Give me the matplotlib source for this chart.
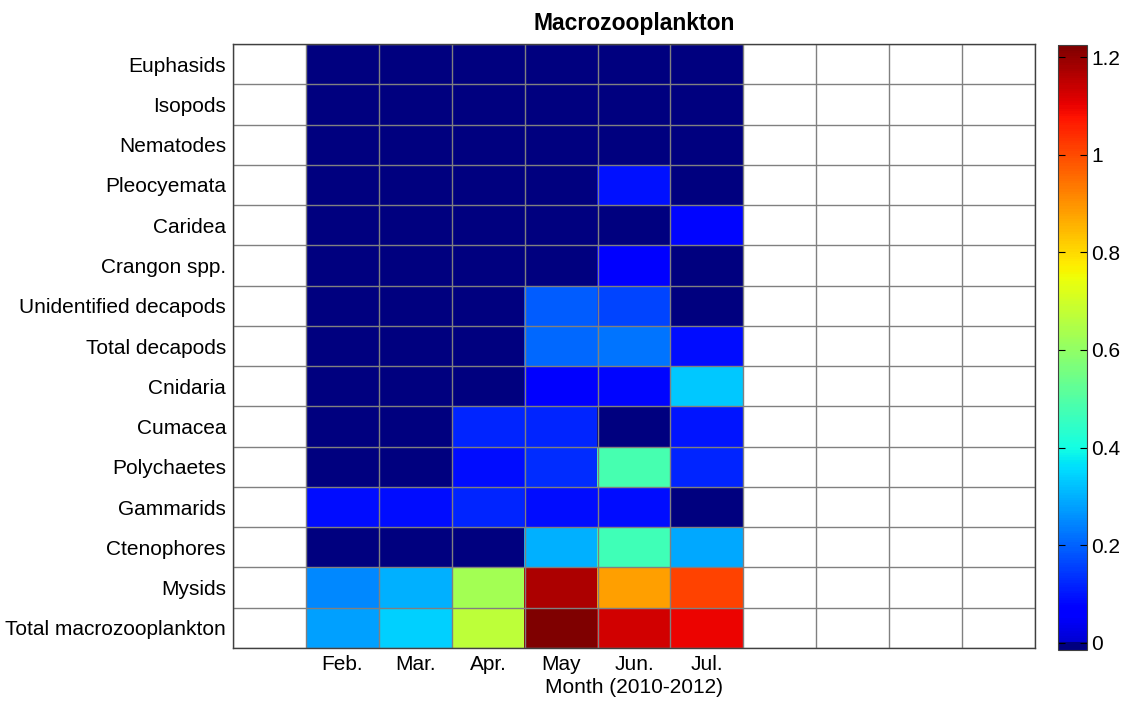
import numpy as np
import matplotlib
matplotlib.use("Agg")
import matplotlib.pyplot as plt
from matplotlib.colors import ListedColormap, Normalize

plt.rcParams['font.family'] = ['Liberation Sans', 'DejaVu Sans']

taxa = ["Euphasids", "Isopods", "Nematodes", "Pleocyemata", "Caridea",
        "Crangon spp.", "Unidentified decapods", "Total decapods", "Cnidaria",
        "Cumacea", "Polychaetes", "Gammarids", "Ctenophores", "Mysids",
        "Total macrozooplankton"]
months = ["", "Feb.", "Mar.", "Apr.", "May", "Jun.", "Jul.", "", "", "", ""]

# values per taxon, Feb..Jul
feb = [0, 0, 0, 0, 0, 0, 0, 0, 0, 0, 0, 0.09, 0, 0.25, 0.28]
mar = [0, 0, 0, 0, 0, 0, 0, 0, 0, 0, 0, 0.09, 0, 0.30, 0.34]
apr = [0, 0, 0, 0, 0, 0, 0, 0, 0, 0.12, 0.09, 0.12, 0, 0.63, 0.67]
may = [0, 0, 0, 0, 0, 0, 0.19, 0.21, 0.07, 0.12, 0.13, 0.09, 0.30, 1.17, 1.225]
jun = [0, 0, 0, 0.095, 0, 0.07, 0.16, 0.22, 0.08, 0, 0.48, 0.09, 0.47, 0.88, 1.13]
jul = [0, 0, 0, 0, 0.08, 0, 0, 0.09, 0.33, 0.10, 0.12, 0, 0.29, 1.01, 1.10]

vmax = 1.225
vmin = -0.015
data = np.full((len(taxa), len(months)), np.nan)
for j, col in enumerate([feb, mar, apr, may, jun, jul], start=1):
    data[:, j] = col
shown = np.where(data <= 0, vmin, data)

# jet-like map: navy for empty cells, then jet starting near blue
jet = plt.get_cmap('jet')
vals = np.linspace(vmin, vmax, 512)
cols = [jet(0.0) if v < 0 else jet(0.072 + v / vmax * 0.928) for v in vals]
cmap = ListedColormap(cols)
cmap.set_bad('white')
norm = Normalize(vmin=vmin, vmax=vmax)

fig = plt.figure(figsize=(11.28, 7.02), dpi=100)
ax = fig.add_axes([233 / 1128, 1 - 648 / 702, 802 / 1128, 604 / 702])
cax = fig.add_axes([1058 / 1128, 1 - 650 / 702, 29 / 1128, 605 / 702])

im = ax.imshow(np.ma.masked_invalid(shown), cmap=cmap, norm=norm,
               aspect='auto', interpolation='nearest')

nr, nc = data.shape
ax.set_xticks(np.arange(nc))
ax.set_xticklabels(months, fontsize=15)
ax.set_yticks(np.arange(nr))
ax.set_yticklabels(taxa, fontsize=15)
ax.set_xticks(np.arange(-0.5, nc, 1), minor=True)
ax.set_yticks(np.arange(-0.5, nr, 1), minor=True)
ax.grid(which='minor', color='#808080', linewidth=1.0)
ax.grid(which='major', visible=False)
ax.tick_params(which='both', length=0)
ax.tick_params(axis='x', pad=5)
ax.tick_params(axis='y', pad=5)
for s in ax.spines.values():
    s.set_color('#404040')
    s.set_linewidth(1.0)
ax.set_xlabel("Month (2010-2012)", fontsize=15, labelpad=3)
ax.set_title("Macrozooplankton", fontsize=16.5, fontweight='bold', pad=10)

cb = fig.colorbar(im, cax=cax)
cb.set_ticks([0, 0.2, 0.4, 0.6, 0.8, 1.0, 1.2])
cb.set_ticklabels(["0", "0.2", "0.4", "0.6", "0.8", "1", "1.2"])
cax.tick_params(labelsize=15, direction='in', length=5, left=True, right=True, pad=3)
cb.outline.set_edgecolor('#404040')

fig.savefig("out.png", dpi=100)
